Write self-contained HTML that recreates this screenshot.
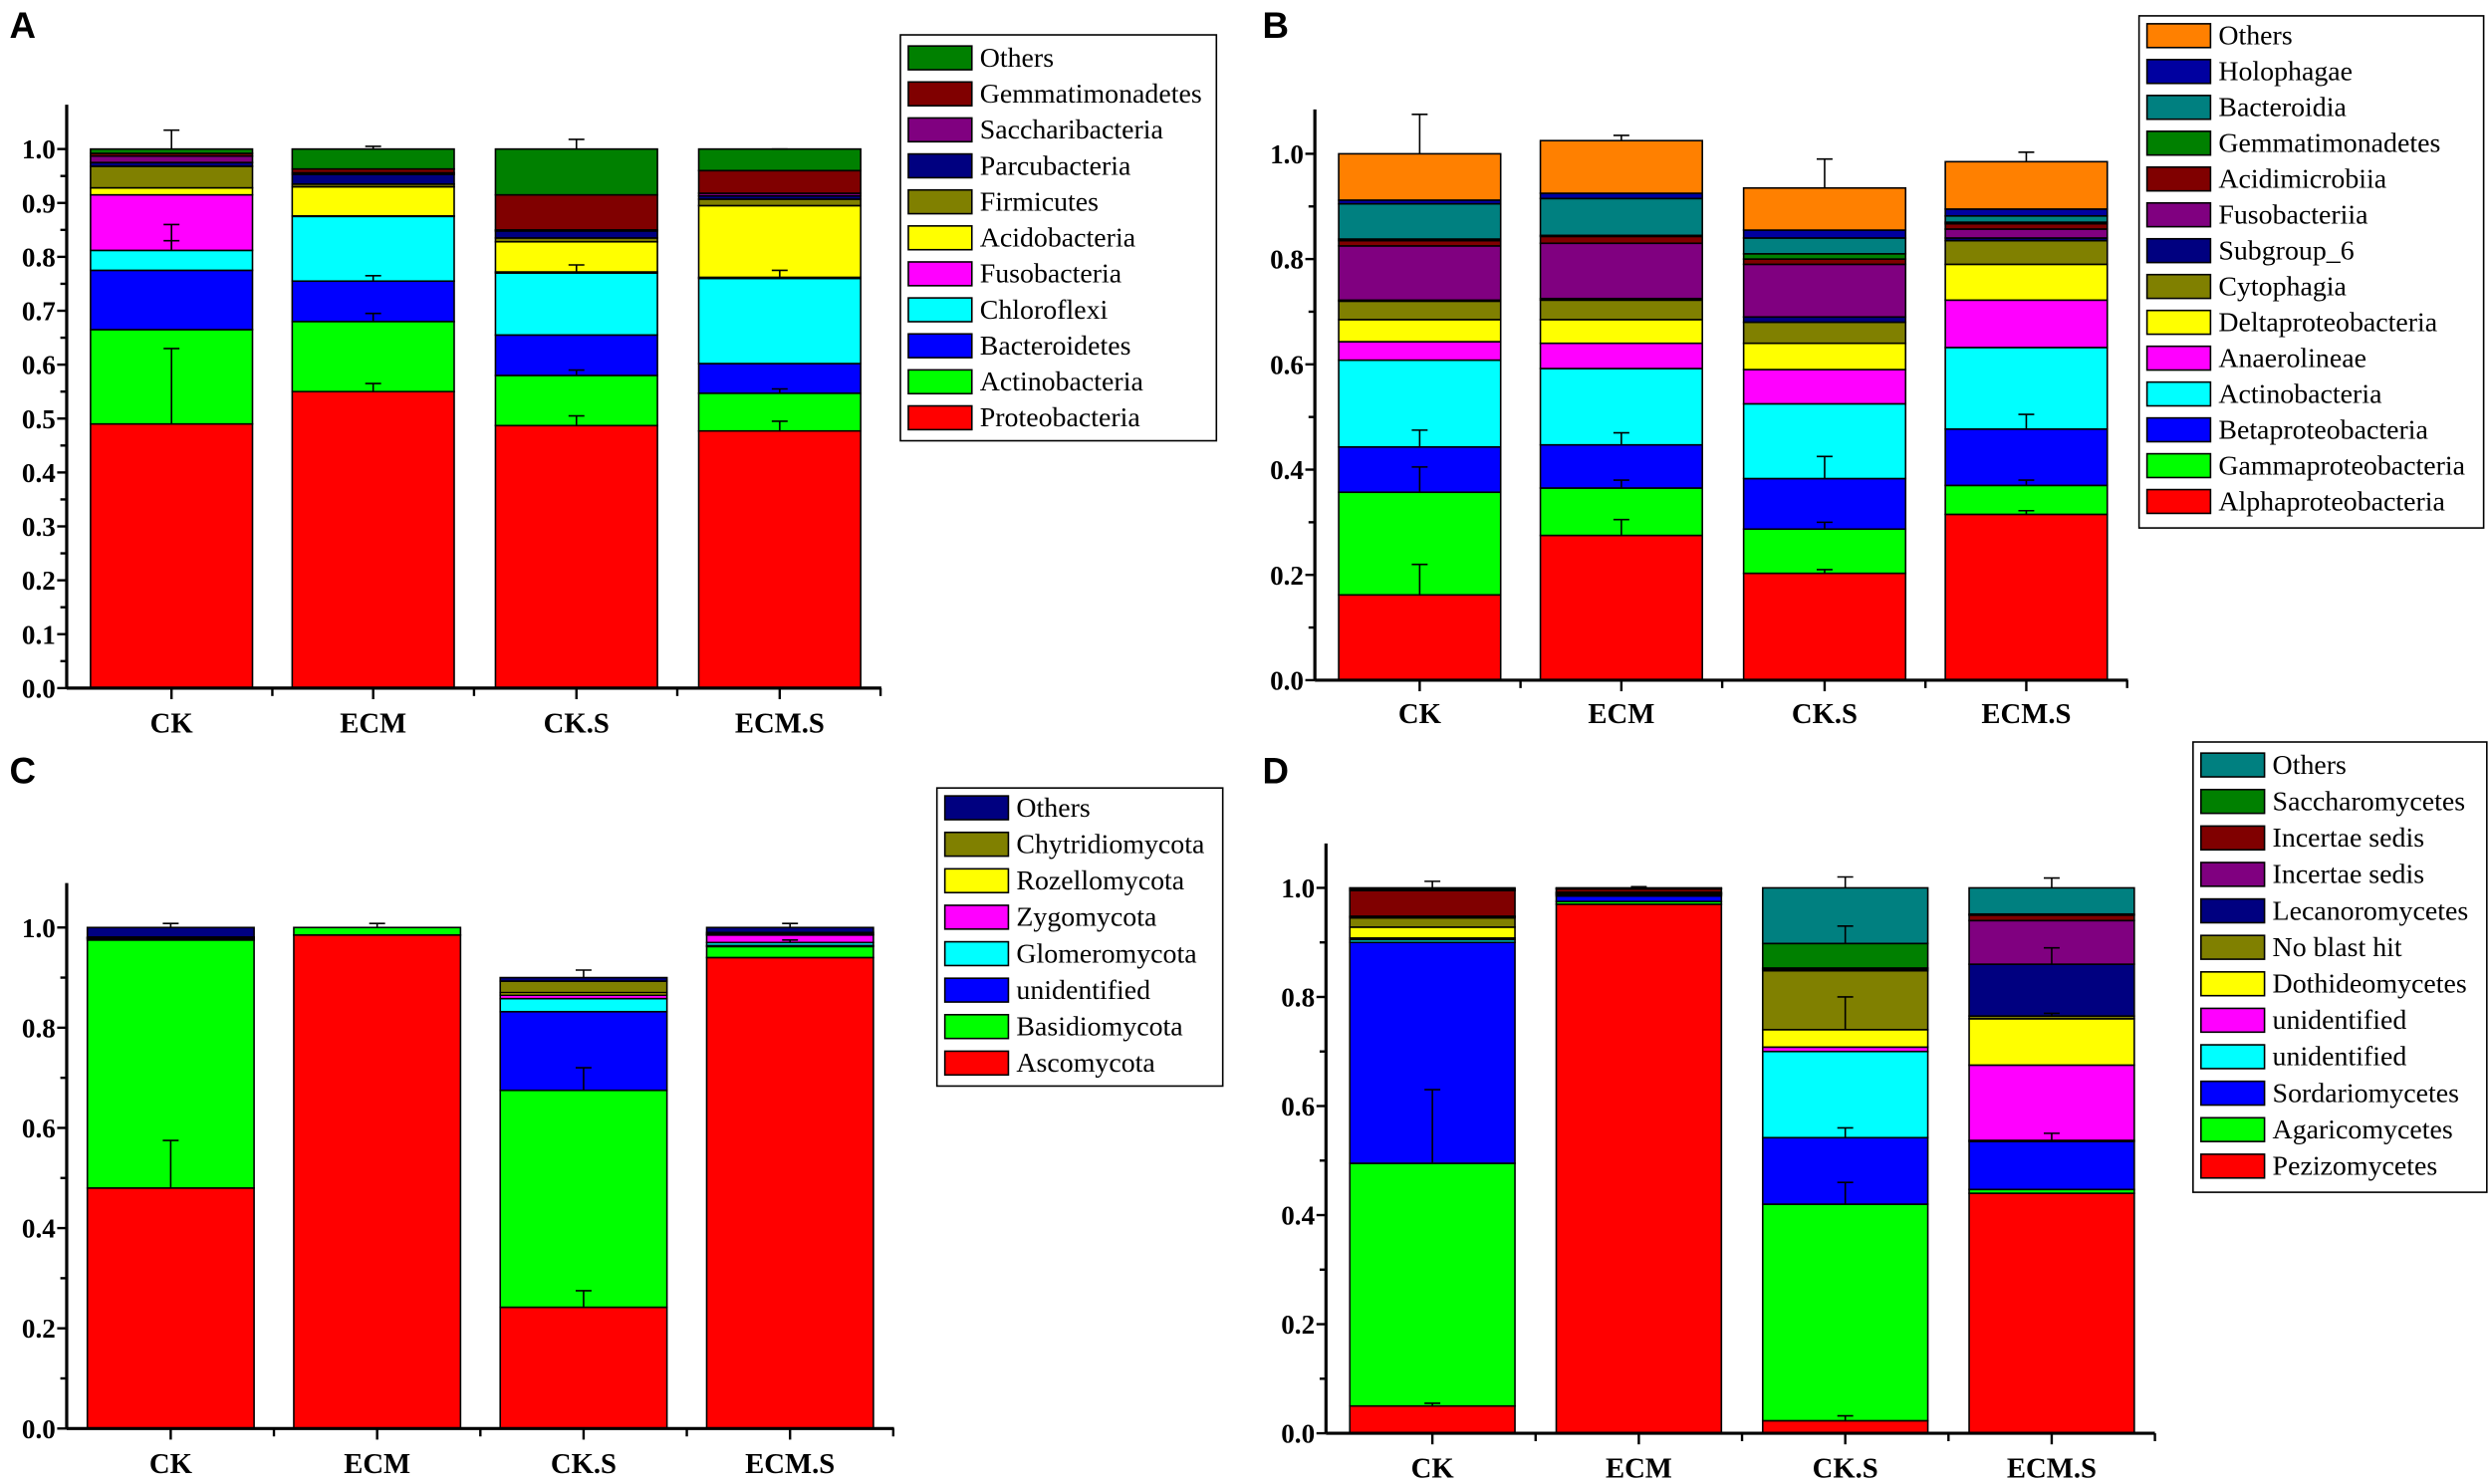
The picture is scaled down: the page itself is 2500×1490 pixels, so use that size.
<!DOCTYPE html>
<html><head><meta charset="utf-8"><style>
html,body{margin:0;padding:0;background:#fff;}
svg{display:block;}
</style></head><body>
<svg id="s" width="2500" height="1490" viewBox="0 0 1568 936" preserveAspectRatio="none" xmlns="http://www.w3.org/2000/svg"></svg>
<script>
const C={red:"#ff0000",lime:"#00ff00",blue:"#0000ff",cyan:"#00ffff",mag:"#ff00ff",yel:"#ffff00",olive:"#808000",navy:"#000080",purp:"#800080",mar:"#800000",grn:"#008000",teal:"#008080",dblue:"#0000a0",org:"#ff8000"};
const cats=["CK","ECM","CK.S","ECM.S"];
const panels=[
{L:"A",lx:6,ly:24,ax:42,y0:434,y1:94,bars:[57,184,312,440],bw:102,xend:555,step:0.1,minor:0.05,dec:1,labY:462,
 cols:[C.red,C.lime,C.blue,C.cyan,C.mag,C.yel,C.olive,C.navy,C.purp,C.mar,C.grn],
 names:["Proteobacteria","Actinobacteria","Bacteroidetes","Chloroflexi","Fusobacteria","Acidobacteria","Firmicutes","Parcubacteria","Saccharibacteria","Gemmatimonadetes","Others"],
 data:[[0.49,0.665,0.775,0.812,0.915,0.928,0.968,0.975,0.987,0.992,1.0],[0.55,0.68,0.755,0.875,0.876,0.93,0.935,0.953,0.956,0.963,1.0],[0.487,0.58,0.655,0.77,0.772,0.828,0.835,0.848,0.85,0.915,1.0],[0.477,0.547,0.602,0.76,0.762,0.895,0.907,0.913,0.918,0.96,1.0]],
 err:[[0.63,0.83,0.86,1.035],[0.565,0.695,0.765,1.005],[0.505,0.59,0.785,1.018],[0.495,0.555,0.775,1.0]],
 leg:{x:567,y:22,w:199,h:256,first:36,sp:22.7}},
{L:"B",lx:795,ly:24,ax:828,y0:429,y1:97,bars:[843,970,1098,1225],bw:102,xend:1340,step:0.2,minor:0.1,dec:1,labY:456,
 cols:[C.red,C.lime,C.blue,C.cyan,C.mag,C.yel,C.olive,C.navy,C.purp,C.mar,C.grn,C.teal,C.dblue,C.org],
 names:["Alphaproteobacteria","Gammaproteobacteria","Betaproteobacteria","Actinobacteria","Anaerolineae","Deltaproteobacteria","Cytophagia","Subgroup_6","Fusobacteriia","Acidimicrobiia","Gemmatimonadetes","Bacteroidia","Holophagae","Others"],
 data:[[0.162,0.357,0.443,0.608,0.643,0.685,0.72,0.722,0.825,0.835,0.838,0.905,0.912,1.0],[0.275,0.365,0.447,0.592,0.64,0.685,0.722,0.725,0.83,0.843,0.845,0.915,0.925,1.025],[0.203,0.287,0.383,0.525,0.59,0.64,0.68,0.69,0.79,0.8,0.81,0.84,0.855,0.935],[0.315,0.37,0.477,0.632,0.722,0.79,0.835,0.84,0.857,0.867,0.87,0.882,0.895,0.985]],
 err:[[0.22,0.405,0.475,1.075],[0.305,0.38,0.47,1.035],[0.21,0.3,0.425,0.99],[0.322,0.38,0.505,1.003]],
 leg:{x:1347,y:10,w:217,h:323,first:22,sp:22.6}},
{L:"C",lx:6,ly:494,ax:42,y0:901,y1:585,bars:[55,185,315,445],bw:105,xend:563,step:0.2,minor:0.1,dec:1,labY:929,
 cols:[C.red,C.lime,C.blue,C.cyan,C.mag,C.yel,C.olive,C.navy],
 names:["Ascomycota","Basidiomycota","unidentified","Glomeromycota","Zygomycota","Rozellomycota","Chytridiomycota","Others"],
 data:[[0.48,0.975,0.977,0.978,0.979,0.98,0.981,1.0],[0.985,1.0,1.0,1.0,1.0,1.0,1.0,1.0],[0.242,0.675,0.832,0.858,0.865,0.87,0.893,0.9],[0.94,0.962,0.964,0.97,0.985,0.987,0.99,1.0]],
 err:[[0.575,1.008],[1.008],[0.275,0.72,0.915],[0.975,1.008]],
 leg:{x:590,y:497,w:180,h:188,first:509,sp:23}},
{L:"D",lx:795,ly:494,ax:835,y0:904,y1:560,bars:[850,980,1110,1240],bw:104,xend:1357,step:0.2,minor:0.1,dec:1,labY:932,
 cols:[C.red,C.lime,C.blue,C.cyan,C.mag,C.yel,C.olive,C.navy,C.purp,C.mar,C.grn,C.teal],
 names:["Pezizomycetes","Agaricomycetes","Sordariomycetes","unidentified","unidentified","Dothideomycetes","No blast hit","Lecanoromycetes","Incertae sedis","Incertae sedis","Saccharomycetes","Others"],
 data:[[0.05,0.495,0.9,0.905,0.908,0.928,0.945,0.947,0.948,0.995,0.998,1.0],[0.97,0.975,0.985,0.987,0.988,0.989,0.99,0.991,0.992,0.998,0.999,1.0],[0.023,0.42,0.542,0.7,0.708,0.74,0.848,0.85,0.852,0.853,0.898,1.0],[0.44,0.447,0.535,0.537,0.675,0.76,0.765,0.86,0.94,0.95,0.952,1.0]],
 err:[[0.055,0.63,1.012],[1.002],[0.032,0.46,0.56,0.8,0.93,1.02],[0.55,0.77,0.89,1.018]],
 leg:{x:1381,y:468,w:185,h:284,first:482,sp:23}}
];
let h="";
for(const p of panels){
 const sc=(p.y0-p.y1);
 const Y=v=>p.y0-v*sc;
 h+=`<text x="${p.lx}" y="${p.ly}" font-family="Liberation Sans,sans-serif" font-weight="bold" font-size="23">${p.L}</text>`;
 p.data.forEach((d,i)=>{
  const x=p.bars[i];let prev=0;
  d.forEach((v,j)=>{ if(v>prev){h+=`<rect x="${x}" y="${Y(v)}" width="${p.bw}" height="${Y(prev)-Y(v)}" fill="${p.cols[j]}" stroke="#000" stroke-width="1"/>`;} prev=Math.max(prev,v);});
  const cx=x+p.bw/2;
  (p.err[i]||[]).forEach(e=>{
   let base=0;for(const v of d){if(v<=e+0.001)base=v;}
   h+=`<line x1="${cx}" y1="${Y(base)}" x2="${cx}" y2="${Y(e)}" stroke="#000" stroke-width="1"/><line x1="${cx-5}" y1="${Y(e)}" x2="${cx+5}" y2="${Y(e)}" stroke="#000" stroke-width="1"/>`;
  });
 });
 const top=p.y1-28;
 h+=`<line x1="${p.ax}" y1="${top}" x2="${p.ax}" y2="${p.y0}" stroke="#000" stroke-width="2"/>`;
 h+=`<line x1="${p.ax}" y1="${p.y0}" x2="${p.xend}" y2="${p.y0}" stroke="#000" stroke-width="2"/>`;
 const n=Math.round(1/p.minor);
 for(let k=0;k<=n;k++){
  const v=k*p.minor; const y=Y(v);
  const major=Math.abs(v/p.step-Math.round(v/p.step))<1e-6;
  h+=`<line x1="${p.ax-(major?6:4)}" y1="${y}" x2="${p.ax}" y2="${y}" stroke="#000" stroke-width="1.5"/>`;
  if(major) h+=`<text x="${p.ax-7}" y="${y+6}" text-anchor="end" font-family="Liberation Serif,serif" font-weight="bold" font-size="17">${v.toFixed(1)}</text>`;
 }
 const gap=p.bars[1]-p.bars[0];
 for(let i=0;i<4;i++){
  const cx=p.bars[i]+p.bw/2;
  h+=`<line x1="${cx}" y1="${p.y0}" x2="${cx}" y2="${p.y0+7}" stroke="#000" stroke-width="1.5"/>`;
  h+=`<line x1="${cx+gap/2}" y1="${p.y0}" x2="${cx+gap/2}" y2="${p.y0+5}" stroke="#000" stroke-width="1.5"/>`;
  h+=`<text x="${cx}" y="${p.labY}" text-anchor="middle" font-family="Liberation Serif,serif" font-weight="bold" font-size="18">${cats[i]}</text>`;
 }
 const g=p.leg;
 h+=`<rect x="${g.x}" y="${g.y}" width="${g.w}" height="${g.h}" fill="#fff" stroke="#000" stroke-width="1"/>`;
 const m=p.names.length;
 for(let k=0;k<m;k++){
  const idx=m-1-k; const cy=g.first+k*g.sp;
  h+=`<rect x="${g.x+5}" y="${cy-7}" width="40" height="15" fill="${p.cols[idx]}" stroke="#000" stroke-width="1"/>`;
  h+=`<text x="${g.x+50}" y="${cy+6}" font-family="Liberation Serif,serif" font-size="17.5">${p.names[idx]}</text>`;
 }
}
document.getElementById("s").innerHTML=h;
</script>
</body></html>
